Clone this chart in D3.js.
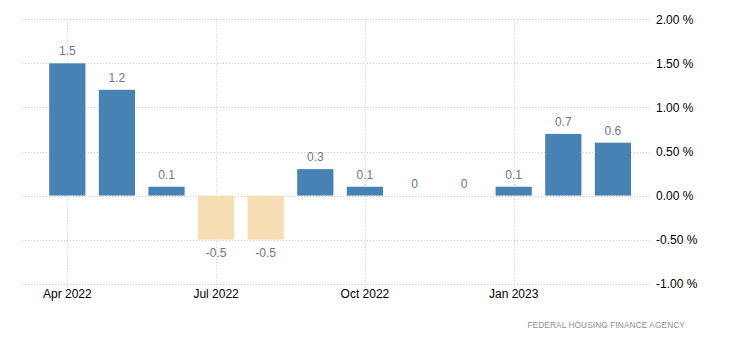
<!DOCTYPE html>
<html><head><meta charset="utf-8">
<script src="https://cdn.jsdelivr.net/npm/d3@7"></script>
<style>body{margin:0;background:#fff;} svg{display:block;font-family:Arial,"Liberation Sans",sans-serif;}</style>
</head><body>
<svg id="c" width="730" height="350"></svg>
<script>
const months = ["2022-04","2022-05","2022-06","2022-07","2022-08","2022-09","2022-10","2022-11","2022-12","2023-01","2023-02","2023-03"];
const values = [1.5,1.2,0.1,-0.5,-0.5,0.3,0.1,0,0,0.1,0.7,0.6];
const yTicks = [2,1.5,1,0.5,0,-0.5,-1];
const xTickMonths = ["2022-04","2022-07","2022-10","2023-01"];
const xTickLabels = ["Apr 2022","Jul 2022","Oct 2022","Jan 2023"];
const source = "FEDERAL HOUSING FINANCE AGENCY";

const svg = d3.select("#c");
const x = d3.scaleBand().domain(months).range([42.5,637.7]).paddingInner(0.27).paddingOuter(0.135);
const y = d3.scaleLinear().domain([-1,2]).range([283.7,19.3]);
const gridL = 22, gridR = 651;

// horizontal grid
svg.append("g").selectAll("line").data(yTicks).join("line")
  .attr("x1",gridL).attr("x2",gridR)
  .attr("y1",d=>Math.round(y(d))+0.5).attr("y2",d=>Math.round(y(d))+0.5)
  .attr("stroke","#c8c8c8").attr("stroke-dasharray","1,2");
// vertical grid
svg.append("g").selectAll("line").data(xTickMonths).join("line")
  .attr("x1",d=>Math.round(x(d)+x.bandwidth()/2)+0.5).attr("x2",d=>Math.round(x(d)+x.bandwidth()/2)+0.5)
  .attr("y1",y(2)).attr("y2",y(-1)+4)
  .attr("stroke","#c8c8c8").attr("stroke-dasharray","1,2");

// y axis labels
const yAxis = d3.axisRight(y).tickValues(yTicks).tickSize(0).tickPadding(0)
  .tickFormat(d=>d3.format(".2f")(d).replace("\u2212","-")+" %");
const ga = svg.append("g").attr("transform",`translate(656,0)`).call(yAxis);
ga.select(".domain").remove();
ga.selectAll("text").attr("font-size",12).attr("fill","#000").attr("font-family","Arial,'Liberation Sans',sans-serif");

// x axis labels
const xAxis = d3.axisBottom(x).tickValues(xTickMonths).tickSize(0).tickPadding(0)
  .tickFormat(d=>xTickLabels[xTickMonths.indexOf(d)]);
const gx = svg.append("g").attr("transform",`translate(0,289)`).call(xAxis);
gx.select(".domain").remove();
gx.selectAll("text").attr("font-size",12).attr("fill","#000").attr("font-family","Arial,'Liberation Sans',sans-serif");

// bars
svg.append("g").selectAll("rect").data(values).join("rect")
  .attr("x",(d,i)=>x(months[i]))
  .attr("width",x.bandwidth())
  .attr("y",d=>y(Math.max(0,d)))
  .attr("height",d=>Math.abs(y(d)-y(0)))
  .attr("fill",d=>d<0?"#F5DEB3":"#4682B4");

// value labels
svg.append("g").selectAll("text").data(values).join("text")
  .attr("x",(d,i)=>x(months[i])+x.bandwidth()/2)
  .attr("y",d=>d<0?y(d)+17:y(d)-8)
  .attr("text-anchor","middle")
  .attr("font-size",12).attr("fill","#6f7390")
  .text(d=>String(d));

// source
svg.append("text").attr("x",685).attr("y",328).attr("text-anchor","end")
  .attr("font-size",8.3).attr("letter-spacing",0.1).attr("fill","#8a8f9c").text(source);
</script>
</body></html>
